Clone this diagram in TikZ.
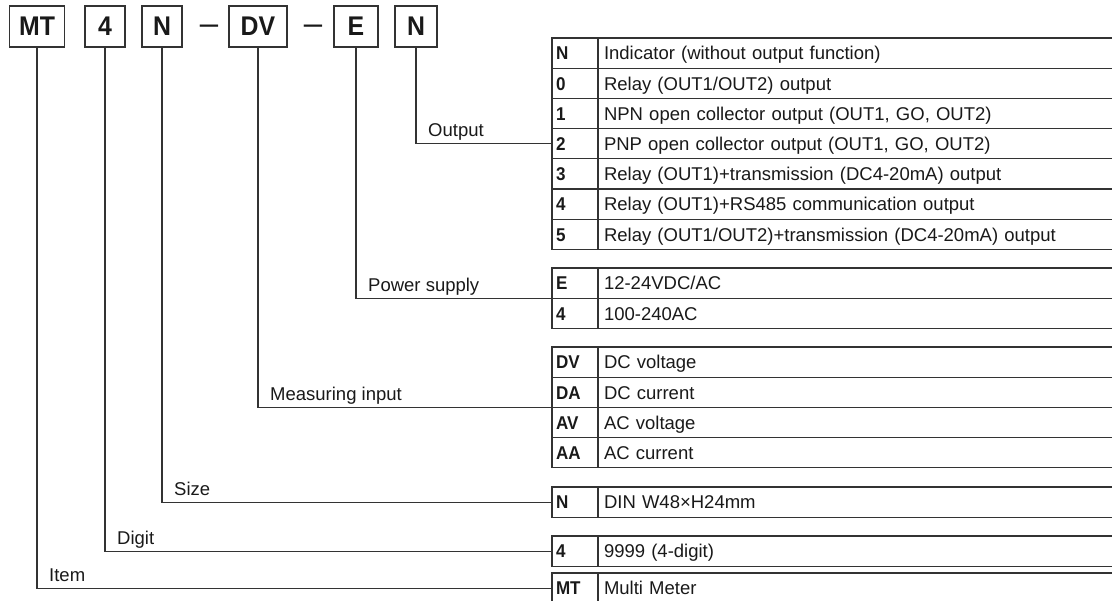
\documentclass[tikz,border=0pt]{standalone}
\usepackage{fontspec}
\setmainfont{Liberation Sans}[BoldFeatures={FakeStretch=0.92}]
% Height of one table row
\newcommand{\rowh}{30.2}
% One code table: #1 node prefix, #2 top edge, #3 list of code/text
\newcommand{\codetable}[3]{
  \foreach \code/\desc [count=\i] in {#3} {
    \node[codecell] (#1\i) at (552, #2+\i*\rowh-\rowh/2) {\code};
    \node[desccell] (#1d\i) at (598, #2+\i*\rowh-\rowh/2) {\desc};
  }
}
% Branch from a code box down and over to its table, with its label
\newcommand{\branch}[4]{
  \draw[wire] (#1.south) |- coordinate (#4) (#2);
  \node[partlabel] (#4l) at ([xshift=12pt, yshift=7pt]#4) {#3};
}

\begin{document}
\begin{tikzpicture}[x=1pt, y=-1pt,
    cell/.style={draw=black!80, line width=1.1pt, minimum height=30.2pt,
      inner ysep=0pt, outer sep=0pt, anchor=west, text=black!90,
      text height=17.5pt, text depth=4pt,
      font=\fontsize{18.5}{20}\selectfont},
    codecell/.style={cell, text width=38pt, inner xsep=4pt, align=left,
      font=\fontsize{18.5}{20}\selectfont\bfseries},
    desccell/.style={cell, text width=520pt, inner xsep=6pt, align=left},
    codebox/.style={draw=black!80, line width=1.3pt, minimum height=41pt,
      inner sep=0pt, text=black!90, font=\fontsize{27}{30}\selectfont\bfseries},
    dashmark/.style={anchor=base, inner sep=0pt, text=black!90,
      font=\fontsize{33}{33}\selectfont},
    wire/.style={draw=black!80, line width=1.1pt},
    partlabel/.style={anchor=base west, inner sep=0pt, text=black!90,
      font=\fontsize{18.5}{20}\selectfont}
  ]
  \useasboundingbox (0,0) rectangle (1112,601);
  \clip (0,0) rectangle (1112,601);

  % The model code
  \node[codebox, minimum width=55pt] (sMT) at (37,26.5) {MT};
  \node[codebox, minimum width=40pt] (sDig) at (105,26.5) {4};
  \node[codebox, minimum width=40pt] (sSize) at (162,26.5) {N};
  \node[dashmark] (dashA) at (209,35) {–};
  \node[codebox, minimum width=58pt] (sIn) at (258,26.5) {DV};
  \node[dashmark] (dashB) at (313,35) {–};
  \node[codebox, minimum width=44pt] (sPwr) at (356,26.5) {E};
  \node[codebox, minimum width=42pt] (sOut) at (416,26.5) {N};

  % The tables
  \codetable{o}{38}{N/{Indicator (without output function)},
    0/{Relay (OUT1/OUT2) output},
    1/{NPN open collector output (OUT1, GO, OUT2)},
    2/{PNP open collector output (OUT1, GO, OUT2)},
    3/{Relay (OUT1)+transmission (DC4-20mA) output},
    4/{Relay (OUT1)+RS485 communication output},
    5/{Relay (OUT1/OUT2)+transmission (DC4-20mA) output}}
  \codetable{p}{268}{E/{12-24VDC/AC}, 4/{100-240AC}}
  \codetable{m}{347}{DV/{DC voltage}, DA/{DC current},
    AV/{AC voltage}, AA/{AC current}}
  \codetable{z}{487}{N/{DIN W48×H24mm}}
  \codetable{d}{536}{4/{9999 (4-digit)}}
  \codetable{t}{573}{MT/{Multi Meter}}

  % The branches
  \branch{sOut}{o4.west}{Output}{kOut}
  \branch{sPwr}{p1.south west}{Power supply}{kPwr}
  \branch{sIn}{m2.south west}{Measuring input}{kIn}
  \branch{sSize}{z1.west}{Size}{kSize}
  \branch{sDig}{d1.west}{Digit}{kDig}
  \branch{sMT}{t1.west}{Item}{kMT}
\end{tikzpicture}
\end{document}
